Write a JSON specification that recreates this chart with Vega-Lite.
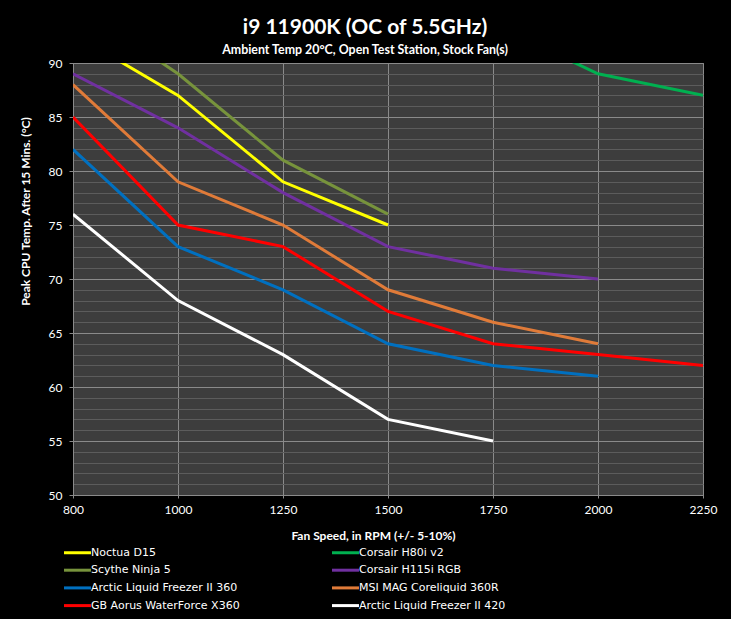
{
  "$schema": "https://vega.github.io/schema/vega-lite/v6.json",
  "width": 630,
  "height": 432,
  "autosize": {"type": "none"},
  "padding": {"left": 73, "top": 63, "right": 28, "bottom": 124},
  "background": "#000000",
  "title": {
    "text": "i9 11900K (OC of 5.5GHz)",
    "subtitle": "Ambient Temp 20°C, Open Test Station, Stock Fan(s)",
    "anchor": "middle",
    "dx": -23,
    "offset": 1,
    "font": "Lato",
    "fontSize": 21,
    "fontWeight": "bold",
    "color": "#ffffff",
    "subtitleFont": "Lato",
    "subtitleFontSize": 12.4,
    "subtitleFontWeight": "bold",
    "subtitleColor": "#ffffff",
    "subtitlePadding": 6
  },
  "data": {
    "values": [
      {"cooler": "Noctua D15", "rpm": 800, "temp": 92.7},
      {"cooler": "Noctua D15", "rpm": 1000, "temp": 87},
      {"cooler": "Noctua D15", "rpm": 1250, "temp": 79},
      {"cooler": "Noctua D15", "rpm": 1500, "temp": 75},
      {"cooler": "Scythe Ninja 5", "rpm": 800, "temp": 95.6},
      {"cooler": "Scythe Ninja 5", "rpm": 1000, "temp": 89},
      {"cooler": "Scythe Ninja 5", "rpm": 1250, "temp": 81},
      {"cooler": "Scythe Ninja 5", "rpm": 1500, "temp": 76},
      {"cooler": "Corsair H80i v2", "rpm": 1750, "temp": 93.6},
      {"cooler": "Corsair H80i v2", "rpm": 2000, "temp": 89},
      {"cooler": "Corsair H80i v2", "rpm": 2250, "temp": 87},
      {"cooler": "Corsair H115i RGB", "rpm": 800, "temp": 89},
      {"cooler": "Corsair H115i RGB", "rpm": 1000, "temp": 84},
      {"cooler": "Corsair H115i RGB", "rpm": 1250, "temp": 78},
      {"cooler": "Corsair H115i RGB", "rpm": 1500, "temp": 73},
      {"cooler": "Corsair H115i RGB", "rpm": 1750, "temp": 71},
      {"cooler": "Corsair H115i RGB", "rpm": 2000, "temp": 70},
      {"cooler": "MSI MAG Coreliquid 360R", "rpm": 800, "temp": 88},
      {"cooler": "MSI MAG Coreliquid 360R", "rpm": 1000, "temp": 79},
      {"cooler": "MSI MAG Coreliquid 360R", "rpm": 1250, "temp": 75},
      {"cooler": "MSI MAG Coreliquid 360R", "rpm": 1500, "temp": 69},
      {"cooler": "MSI MAG Coreliquid 360R", "rpm": 1750, "temp": 66},
      {"cooler": "MSI MAG Coreliquid 360R", "rpm": 2000, "temp": 64},
      {"cooler": "GB Aorus WaterForce X360", "rpm": 800, "temp": 85},
      {"cooler": "GB Aorus WaterForce X360", "rpm": 1000, "temp": 75},
      {"cooler": "GB Aorus WaterForce X360", "rpm": 1250, "temp": 73},
      {"cooler": "GB Aorus WaterForce X360", "rpm": 1500, "temp": 67},
      {"cooler": "GB Aorus WaterForce X360", "rpm": 1750, "temp": 64},
      {"cooler": "GB Aorus WaterForce X360", "rpm": 2000, "temp": 63},
      {"cooler": "GB Aorus WaterForce X360", "rpm": 2250, "temp": 62},
      {"cooler": "Arctic Liquid Freezer II 360", "rpm": 800, "temp": 82},
      {"cooler": "Arctic Liquid Freezer II 360", "rpm": 1000, "temp": 73},
      {"cooler": "Arctic Liquid Freezer II 360", "rpm": 1250, "temp": 69},
      {"cooler": "Arctic Liquid Freezer II 360", "rpm": 1500, "temp": 64},
      {"cooler": "Arctic Liquid Freezer II 360", "rpm": 1750, "temp": 62},
      {"cooler": "Arctic Liquid Freezer II 360", "rpm": 2000, "temp": 61},
      {"cooler": "Arctic Liquid Freezer II 420", "rpm": 800, "temp": 76},
      {"cooler": "Arctic Liquid Freezer II 420", "rpm": 1000, "temp": 68},
      {"cooler": "Arctic Liquid Freezer II 420", "rpm": 1250, "temp": 63},
      {"cooler": "Arctic Liquid Freezer II 420", "rpm": 1500, "temp": 57},
      {"cooler": "Arctic Liquid Freezer II 420", "rpm": 1750, "temp": 55}
    ]
  },
  "mark": {"type": "line", "strokeWidth": 3, "clip": true},
  "encoding": {
    "x": {
      "field": "rpm",
      "type": "ordinal",
      "scale": {"type": "point", "padding": 0, "domain": [800, 1000, 1250, 1500, 1750, 2000, 2250]},
      "axis": {
        "title": "Fan Speed, in RPM (+/- 5-10%)",
        "labelAngle": 0,
        "grid": true,
        "gridColor": "#8a8a8a",
        "gridWidth": 1,
        "domainColor": "#8a8a8a",
        "tickColor": "#8a8a8a",
        "tickSize": 3,
        "labelPadding": 6,
        "labelColor": "#ffffff",
        "labelFont": "Lato",
        "labelFontSize": 12,
        "titleColor": "#ffffff",
        "titleFont": "Lato",
        "titleFontSize": 12,
        "titleFontWeight": "bold",
        "titleX": 300,
        "titleY": 40,
        "titleBaseline": "middle"
      }
    },
    "y": {
      "field": "temp",
      "type": "quantitative",
      "scale": {"domain": [50, 90], "nice": false, "zero": false},
      "axis": {
        "title": "Peak CPU Temp. After 15 Mins.  (°C)",
        "values": [50,51,52,53,54,55,56,57,58,59,60,61,62,63,64,65,66,67,68,69,70,71,72,73,74,75,76,77,78,79,80,81,82,83,84,85,86,87,88,89,90],
        "labelExpr": "datum.value % 5 === 0 ? datum.label : ''",
        "grid": true,
        "gridColor": {"condition": {"test": "datum.value % 5 === 0", "value": "#8a8a8a"}, "value": "#5c5c5c"},
        "gridWidth": 1,
        "tickOpacity": {"condition": {"test": "datum.value % 5 === 0", "value": 1}, "value": 0},
        "tickColor": "#8a8a8a",
        "tickSize": 4,
        "labelPadding": 7,
        "domainColor": "#8a8a8a",
        "labelColor": "#ffffff",
        "labelFont": "Lato",
        "labelFontSize": 12,
        "titleColor": "#ffffff",
        "titleFont": "Lato",
        "titleFontSize": 12,
        "titleFontWeight": "bold",
        "titleX": -48,
        "titleY": 148,
        "titleBaseline": "middle",
        "titleAlign": "center"
      }
    },
    "color": {
      "field": "cooler",
      "type": "nominal",
      "scale": {
        "domain": ["Noctua D15", "Scythe Ninja 5", "Arctic Liquid Freezer II 360", "GB Aorus WaterForce X360", "Corsair H80i v2", "Corsair H115i RGB", "MSI MAG Coreliquid 360R", "Arctic Liquid Freezer II 420"],
        "range": ["#ffff00", "#77933c", "#0070c0", "#ff0000", "#00b050", "#7030a0", "#e07b39", "#ffffff"]
      },
      "legend": {
        "title": null,
        "orient": "none",
        "legendX": -4,
        "legendY": 481,
        "columns": 2,
        "columnPadding": 86,
        "rowPadding": 2.7,
        "padding": 0,
        "symbolType": "M-2,0H2",
        "symbolSize": 182,
        "symbolStrokeWidth": 3,
        "labelOffset": 5,
        "labelColor": "#ffffff",
        "labelFont": "DejaVu Sans",
        "labelFontSize": 11,
        "labelLimit": 300
      }
    }
  },
  "config": {
    "view": {"fill": "#3d3d3d", "stroke": "#8a8a8a"}
  }
}
